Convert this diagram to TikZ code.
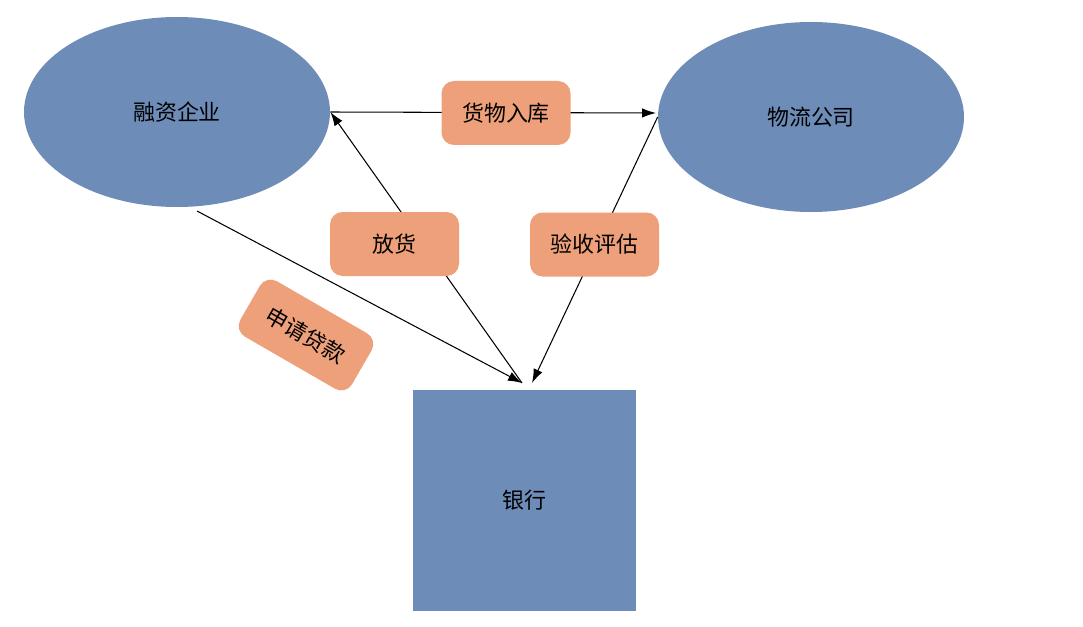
\documentclass[tikz,border=0pt]{standalone}
\usepackage{fontspec}
\newfontfamily\cjk{Noto Sans CJK SC}
\usetikzlibrary{arrows.meta}
\usetikzlibrary{shapes.geometric}
\usetikzlibrary{positioning}
\definecolor{partyblue}{HTML}{6D8CB7}
\definecolor{flowpeach}{HTML}{EDA07A}
\tikzset{> = {Latex[length=0.28cm, width=0.19cm]},
  party/.style = {fill = partyblue, draw = none, ellipse, minimum width = 6.12cm, minimum height = 3.8cm, font = \cjk\fontsize{12.5}{15}\selectfont},
  bankbox/.style = {fill = partyblue, draw = none, minimum width = 4.46cm, minimum height = 4.42cm, font = \cjk\fontsize{12.5}{15}\selectfont},
  flow/.style = {fill = flowpeach, draw = none, rounded corners = 0.25cm, minimum width = 2.58cm, minimum height = 1.28cm, font = \cjk\fontsize{12.5}{15}\selectfont},
  link/.style = {line width = 0.6pt}}

\begin{document}
\begin{tikzpicture}
  \useasboundingbox (0,0) rectangle (21.66,12.52);
  % nodes
  \node (firm) [party] at (3.54,10.28) {融资企业};
  \node (logistics) [party] at (16.22,10.18) {物流公司};
  \node (bank) [bankbox] at (10.49,2.51) {银行};
  \coordinate (bank-left) at (10.44,4.86);
  \coordinate (bank-right) at (10.64,4.86);
  \coordinate (firm-low) at (3.94,8.30);
  \coordinate (logistics-in) at (13.12,10.26);
  % edges
  \draw [link, ->] (firm.east) -- (logistics-in);
  \draw [link, ->] (bank-left) -- (firm.east);
  \draw [link, ->] (logistics.west) -- (bank-right);
  \draw [link, ->] (firm-low) -- (bank-left);
  % labels
  \node (store) [flow] at (10.12,10.26) {货物入库};
  \node (release) [flow] at (7.89,7.64) {放货};
  \node (inspect) [flow] at (11.89,7.63) {验收评估};
  \node (apply) [flow, rotate = -30] at (6.12,5.82) {申请贷款};
\end{tikzpicture}
\end{document}
